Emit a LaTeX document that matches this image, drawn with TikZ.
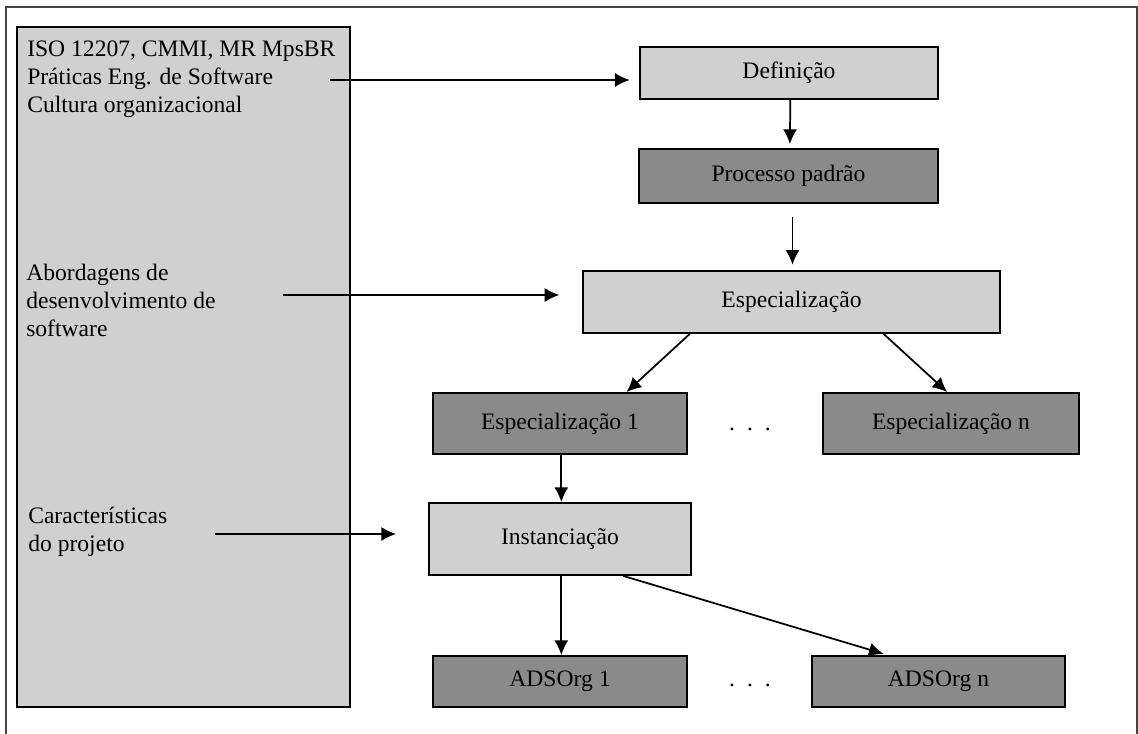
\documentclass[tikz,border=0pt]{standalone}
\usepackage{fontspec}
\setmainfont{Liberation Serif}
\usetikzlibrary{arrows.meta,calc}
\definecolor{lightg}{HTML}{D0D0D0}
\definecolor{darkg}{HTML}{8A8A8A}
\definecolor{frameg}{HTML}{444444}
\begin{document}
\begin{tikzpicture}[x=0.75pt,y=-0.75pt,
  font=\fontsize{17.7}{21}\selectfont,
  sz/.style 2 args={minimum width=#1*0.75pt, minimum height=#2*0.75pt},
  boxbase/.style={draw=black, line width=1.4pt, inner sep=0pt},
  lightbox/.style={boxbase, fill=lightg},
  darkbox/.style={boxbase, fill=darkg},
  arr/.style={line width=1.3pt, -{Latex[length=11pt,width=10.5pt]}},
  paneltext/.style={anchor=base west, align=left, inner sep=0pt},
  dots/.style={anchor=base, inner sep=0pt},
]
\useasboundingbox (0,0) rectangle (1138,734);
% outer frame
\draw[frameg, line width=0.8pt] (6,734) -- (6,7) -- (1137,7) -- (1137,734);
% left panel
\node[lightbox, sz={333}{680}] (panel) at (183.5,367) {};
\node[paneltext] (t1) at (27,113) {ISO 12207, CMMI, MR MpsBR\\Práticas Eng. de Software\\Cultura organizacional};
\node[paneltext] (t2) at (26,336) {Abordagens de\\desenvolvimento de\\software};
\node[paneltext] (t3) at (28,551) {Características\\do projeto};
% boxes
\node[lightbox, sz={298}{52}] (def) at (789,73) {Definição};
\node[darkbox, sz={299}{54}] (proc) at (788.5,176) {Processo padrão};
\node[lightbox, sz={417}{62}] (esp) at (791.5,302) {Especialização};
\node[darkbox, sz={254}{61}] (esp1) at (560,423.5) {Especialização 1};
\node[darkbox, sz={256}{61}] (espn) at (951,423.5) {Especialização n};
\node[lightbox, sz={262}{72}] (inst) at (560,539) {Instanciação};
\node[darkbox, sz={254}{51}] (ads1) at (560,681.5) {ADSOrg 1};
\node[darkbox, sz={253}{51}] (adsn) at (938.5,681.5) {ADSOrg n};
\node[dots] (d1) at (750,430) {.\hspace{9pt}.\hspace{9pt}.};
\node[dots] (d2) at (750,686) {.\hspace{9pt}.\hspace{9pt}.};
% input arrows
\coordinate (s1) at (330,80);
\coordinate (s2) at (283,295);
\coordinate (s3) at (215,534);
\draw[arr, shorten >=7pt] (s1) -- (s1 -| def.west);
\draw[arr, shorten >=17pt] (s2) -- (s2 -| esp.west);
\draw[arr, shorten >=24pt] (s3) -- (s3 -| inst.west);
% flow arrows
\draw[arr, shorten >=3pt] ([xshift=1pt]def.south) -- ([xshift=1pt]proc.north);
\draw[arr, shorten <=10pt, shorten >=4pt] ([xshift=3pt]proc.south) -- ([xshift=3pt]proc.south |- esp.north);
\draw[arr] ($(esp.south west)!0.257!(esp.south east)$) -- ($(esp1.north west)!0.76!(esp1.north east)$);
\draw[arr] ($(esp.south west)!0.72!(esp.south east)$) -- ($(espn.north west)!0.485!(espn.north east)$);
\draw[arr] ([xshift=1pt]esp1.south) -- ([xshift=1pt]inst.north);
\draw[arr] ([xshift=1pt]inst.south) -- ([xshift=1pt]ads1.north);
\draw[arr, shorten >=3pt] ($(inst.south west)!0.74!(inst.south east)$) -- ($(adsn.north west)!0.30!(adsn.north east)$);
\end{tikzpicture}
\end{document}
